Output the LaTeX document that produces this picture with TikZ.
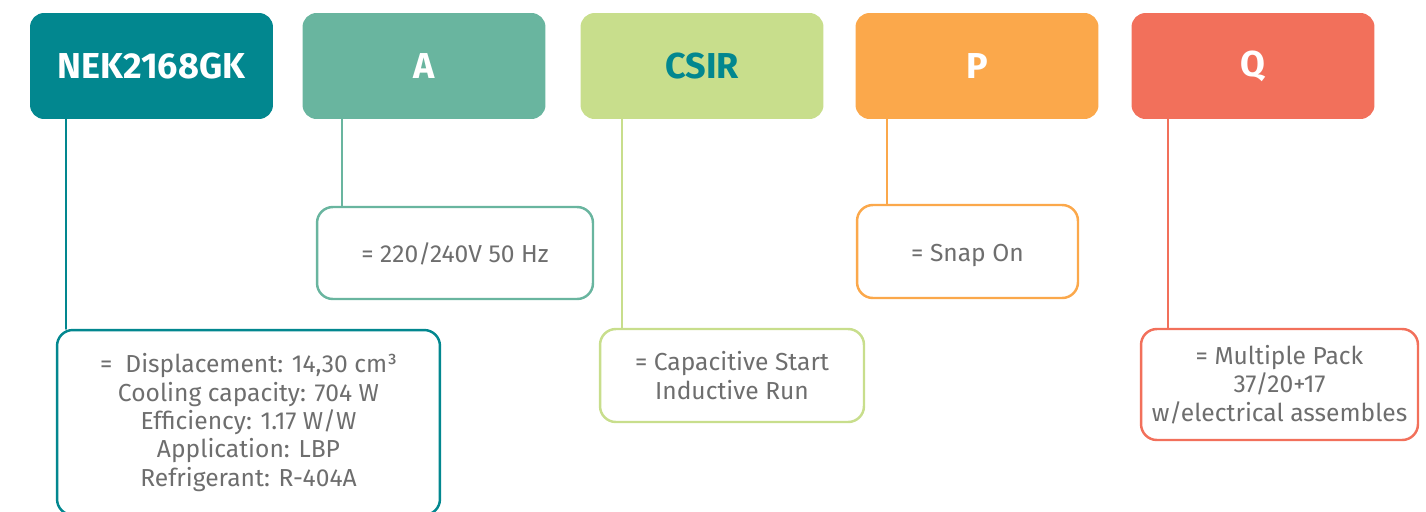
\documentclass[tikz,border=0pt]{standalone}
\usepackage{fontspec}
\setmainfont{Fira Sans}
\usepackage{tikz}
\definecolor{ttcolor}{rgb}{0.008,0.529,0.561}
\definecolor{ggcolor}{rgb}{0.412,0.710,0.624}
\definecolor{llcolor}{rgb}{0.784,0.871,0.549}
\definecolor{oocolor}{rgb}{0.984,0.659,0.294}
\definecolor{rrcolor}{rgb}{0.949,0.439,0.357}
\definecolor{txtgray}{rgb}{0.43,0.43,0.43}
\tikzset{
  codebox/.style={rectangle,rounded corners=8pt,minimum width=4.86cm,minimum height=2.12cm,
    text=white,font=\fontsize{20.5}{24}\selectfont\bfseries},
  infobox/.style={rectangle,rounded corners=9pt,draw,line width=1.4pt,fill=white,
    text=txtgray,align=center,font=\fontsize{14}{16.2}\selectfont},
  oneline/.style={text height=14pt,text depth=3pt},
  link/.style={line width=1.1pt}
}
\begin{document}
\begin{tikzpicture}[line cap=round,line join=round,x=0.02cm,y=-0.02cm]
\clip(0,0) rectangle (1426,511);
\useasboundingbox (0,0) rectangle (1426,511);
% code boxes
\node[codebox,fill=ttcolor] (model) at (151.5,66) {NEK2168GK};
\node[codebox,fill=ggcolor] (volt) at (424,66) {A};
\node[codebox,fill=llcolor,text=ttcolor] (motor) at (702,66) {CSIR};
\node[codebox,fill=oocolor] (conn) at (977,66) {P};
\node[codebox,fill=rrcolor] (pack) at (1253,66) {Q};
% explanation boxes
\node[infobox,draw=ttcolor,minimum width=7.66cm,minimum height=3.7cm] (modelinfo) at (248.5,422.5)
  {=\ \ Displacement: 14,30 cm³\\Cooling capacity: 704 W\\Efficiency: 1.17 W/W\\Application: LBP\\Refrigerant: R-404A};
\node[infobox,oneline,draw=ggcolor,minimum width=5.52cm,minimum height=1.84cm] (voltinfo) at (455,253)
  {= 220/240V 50 Hz};
\node[infobox,draw=llcolor,minimum width=5.28cm,minimum height=1.86cm] (motorinfo) at (732,375.5)
  {= Capacitive Start\\Inductive Run};
\node[infobox,oneline,draw=oocolor,minimum width=4.42cm,minimum height=1.86cm] (conninfo) at (967.5,251.5)
  {= Snap On};
\node[infobox,draw=rrcolor,minimum width=5.54cm,minimum height=2.22cm] (packinfo) at (1279.5,384.5)
  {= Multiple Pack\\37/20+17\\w/electrical assembles};
% links
\coordinate (s1) at (66,119);
\coordinate (s2) at (342,119);
\coordinate (s3) at (622,119);
\coordinate (s4) at (887,119);
\coordinate (s5) at (1168,119);
\draw[link,ttcolor] (s1) -- (s1 |- modelinfo.north);
\draw[link,ggcolor] (s2) -- (s2 |- voltinfo.north);
\draw[link,llcolor] (s3) -- (s3 |- motorinfo.north);
\draw[link,oocolor] (s4) -- (s4 |- conninfo.north);
\draw[link,rrcolor] (s5) -- (s5 |- packinfo.north);
\end{tikzpicture}
\end{document}
